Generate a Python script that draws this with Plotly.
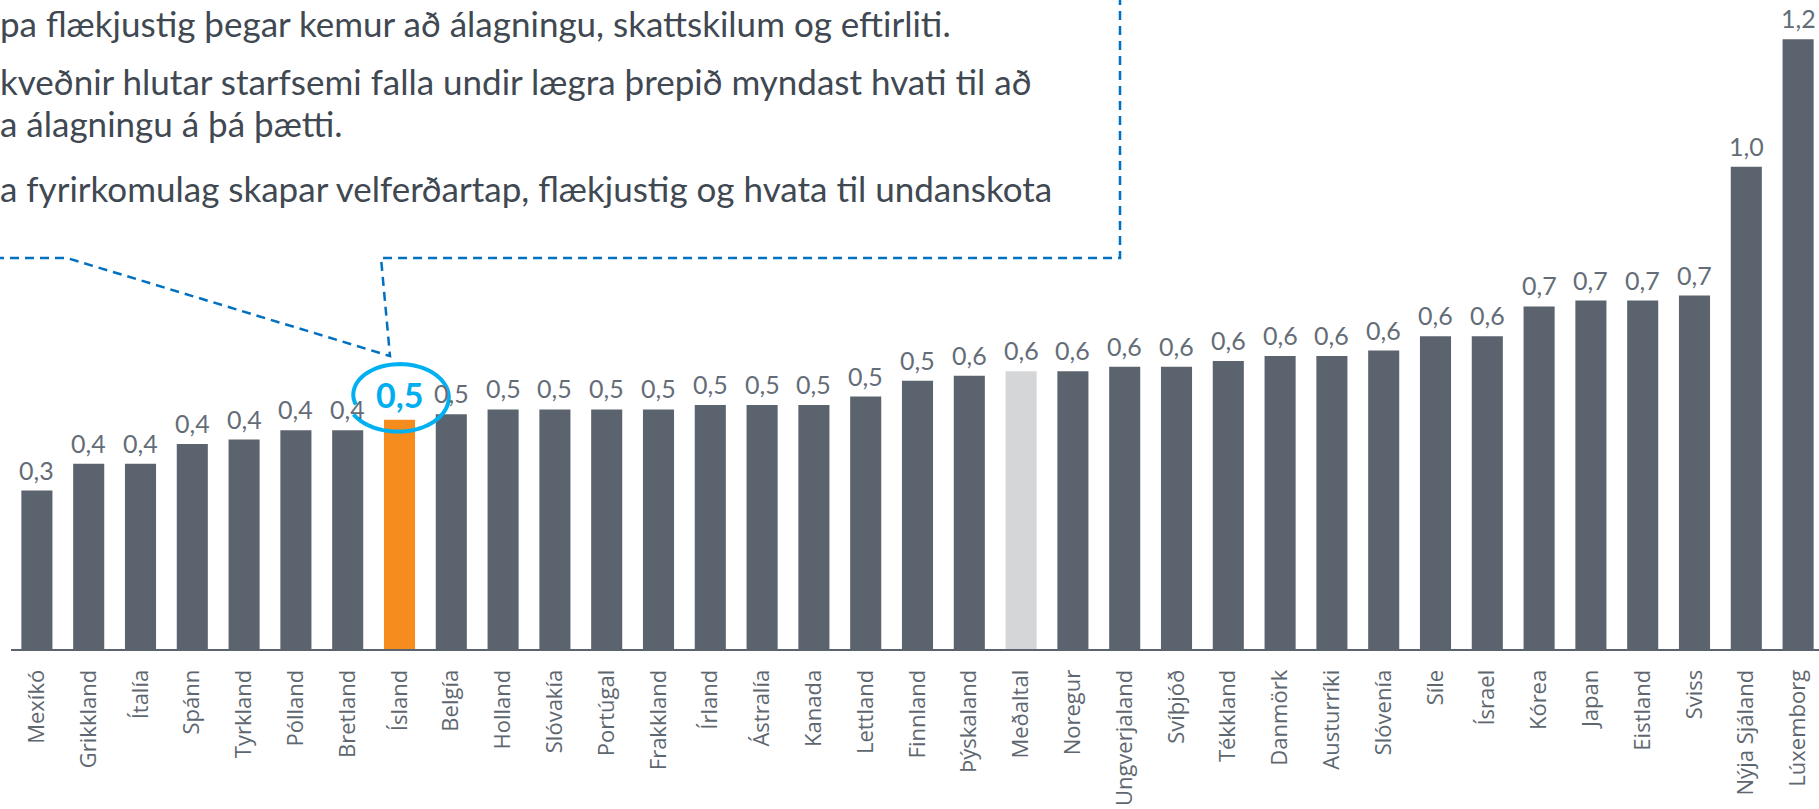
import math
import plotly.graph_objects as go

categories = ['Mexíkó', 'Grikkland', 'Ítalía', 'Spánn', 'Tyrkland', 'Pólland', 'Bretland',
              'Ísland', 'Belgía', 'Holland', 'Slóvakía', 'Portúgal', 'Frakkland', 'Írland',
              'Ástralía', 'Kanada', 'Lettland', 'Finnland', 'Þýskaland', 'Meðaltal', 'Noregur',
              'Ungverjaland', 'Svíþjóð', 'Tékkland', 'Danmörk', 'Austurríki', 'Slóvenía', 'Síle',
              'Ísrael', 'Kórea', 'Japan', 'Eistland', 'Sviss', 'Nýja Sjáland', 'Lúxemborg']
values = [0.320, 0.374, 0.374, 0.414, 0.423, 0.442, 0.442, 0.463, 0.474, 0.484, 0.484, 0.484,
          0.484, 0.493, 0.493, 0.493, 0.510, 0.542, 0.552, 0.561, 0.561, 0.570, 0.570, 0.582,
          0.592, 0.592, 0.603, 0.632, 0.632, 0.692, 0.704, 0.704, 0.714, 0.974, 1.232]
highlight = 'Ísland'
average = 'Meðaltal'

text_lines = [
    "pa flækjustig þegar kemur að álagningu, skattskilum og eftirliti.",
    "kveðnir hlutar starfsemi falla undir lægra þrepið myndast hvati til að",
    "a álagningu á þá þætti.",
    "a fyrirkomulag skapar velferðartap, flækjustig og hvata til undanskota",
]

W, H = 1819, 809
L, R, T, B = 11, 0, 0, 160
PW, PH = W - L - R, H - T - B


def px(x):
    return (x - L) / PW


def py(y):
    return (H - B - y) / PH


BAR = '#5b646e'
colors = ['#f68b1e' if c == highlight else '#d5d6d8' if c == average else BAR for c in categories]

fig = go.Figure(go.Bar(x=categories, y=values, marker=dict(color=colors, line=dict(width=0)),
                       hoverinfo='skip'))

annotations = []
for c, v in zip(categories, values):
    lbl = f"{v:.1f}".replace('.', ',')
    if c == highlight:
        annotations.append(dict(x=c, y=v, xref='x', yref='y', text='<b>' + lbl + '</b>', showarrow=False,
                                yanchor='middle', yshift=25,
                                font=dict(family='Lato, Open Sans, sans-serif', size=34, color='#00aeef')))
    else:
        annotations.append(dict(x=c, y=v, xref='x', yref='y', text=lbl, showarrow=False,
                                yanchor='middle', yshift=21,
                                font=dict(family='Lato, Open Sans, sans-serif', size=25, color='#646d77')))

line_y = [23, 81, 123, 188]
for t, yy in zip(text_lines, line_y):
    annotations.append(dict(x=px(-2), y=py(yy), xref='paper', yref='paper', text=t, showarrow=False,
                            xanchor='left', yanchor='middle',
                            font=dict(family='Lato, Open Sans, sans-serif', size=35, color='#404852')))

shapes = []
# dashed callout outline
pts = [(-5, 258), (67, 258), (390, 356), (381, 258), (1120, 258), (1120, -5)]
path = 'M ' + ' L '.join(f'{px(x)},{py(y)}' for x, y in pts)
shapes.append(dict(type='path', xref='paper', yref='paper', path=path,
                   line=dict(color='#0070c0', width=2.5, dash='9px,6px')))

# hand-drawn ellipse around highlighted label
cx, cy, rx, ry = 398, 397, 49, 33
epts = []
n = 80
for i in range(n + 1):
    a = math.radians(150 - (150 + 195) * i / n)
    s = 1.05 - 0.16 * (i / n) ** 3
    epts.append((cx + rx * s * math.cos(a), cy + ry * s * math.sin(a)))
epath = 'M ' + ' L '.join(f'{px(x)},{py(y)}' for x, y in epts)
shapes.append(dict(type='path', xref='paper', yref='paper', path=epath,
                   line=dict(color='#00b0f0', width=4)))

fig.update_layout(
    width=W, height=H,
    margin=dict(l=L, r=R, t=T, b=B, autoexpand=False),
    paper_bgcolor='white', plot_bgcolor='white',
    bargap=0.40,
    showlegend=False,
    separators=', ',
    xaxis=dict(type='category', range=[-0.5, -0.5 + PW / 51.8], showline=True, linecolor='#5b646e',
               linewidth=2, showgrid=False, ticks='', tickangle=-90, ticklabelstandoff=10,
               tickfont=dict(family='Open Sans, sans-serif', size=22, color='#5e6770'),
               fixedrange=True),
    yaxis=dict(range=[0, PH / 495.0], visible=False, showgrid=False, zeroline=False, fixedrange=True),
    annotations=annotations,
    shapes=shapes,
)

fig.write_html('out.html', config={'displayModeBar': False},
               post_script="document.body.style.margin='0';document.body.style.overflow='hidden';")
